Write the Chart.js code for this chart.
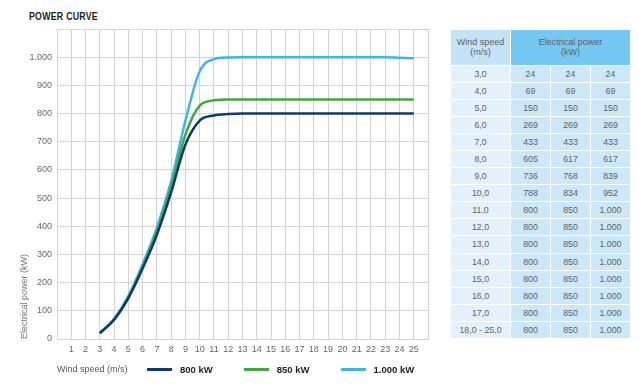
<!DOCTYPE html>
<html>
<head>
<meta charset="utf-8">
<script src="https://cdn.jsdelivr.net/npm/chart.js@4"></script>
<style>
    body { margin: 0; background: #fff; font-family: 'Liberation Sans', Arial, sans-serif; }
    #page { position: relative; width: 639px; height: 386px; overflow: hidden; }
    #title { position: absolute; left: 29px; top: 10px; font-size: 11px; font-weight: bold; color: #1e1e1e;
             letter-spacing: 0.3px; transform: scaleX(0.8); transform-origin: left top; }
    #chart-box { position: absolute; left: 0; top: 0; width: 440px; height: 386px; }
    #legend { position: absolute; left: 147px; top: 364px; display: flex; align-items: center; }
    .leg-item { display: flex; align-items: center; margin-right: 31px; font-size: 9.5px; font-weight: bold; color: #222; }
    .leg-line { width: 25px; height: 3px; margin-right: 8px; }
    #power-table { position: absolute; left: 450px; top: 29px; border-collapse: collapse; font-size: 8.8px; color: #606060; }
    #power-table td, #power-table th { border: 1px solid #fff; text-align: center; padding: 0; font-weight: normal; }
    #power-table th { height: 35px; line-height: 9.5px; font-size: 9px; }
    #power-table th.speed-head { background: #c4e2f6; width: 59px; }
    #power-table th.power-head { background: #74c7f0; }
    #power-table td { height: 16.06px; }
    #power-table td.speed { background: #e4f1fb; }
    #power-table td.val { background: #cce8f8; width: 39px; }
</style>
</head>
<body>
<div id="page">
    <div id="title">POWER CURVE</div>
    <div id="chart-box"><canvas id="power-chart" width="440" height="386"></canvas></div>
    <div id="legend"></div>
    <table id="power-table">
        <thead>
            <tr><th class="speed-head">Wind speed<br>(m/s)</th><th class="power-head" colspan="3">Electrical power<br>(kW)</th></tr>
        </thead>
        <tbody></tbody>
    </table>
</div>
<script>
// Curvas
const windSpeeds = [3, 4, 5, 6, 7, 8, 9, 10, 11, 12, 13, 14, 15, 16, 17, 18, 19, 20, 21, 22, 23, 24, 25];
const curve800 = [20, 68, 145, 250, 370, 520, 690, 775, 793, 798, 800, 800, 800, 800, 800, 800, 800, 800, 800, 800, 800, 800, 800];
const curve850 = [21, 70, 148, 258, 382, 540, 725, 828, 847, 850, 850, 850, 850, 850, 850, 850, 850, 850, 850, 850, 850, 850, 850];
const curve1000 = [22, 72, 152, 265, 395, 560, 775, 950, 993, 999, 1000, 1000, 1000, 1000, 1000, 1000, 1000, 1000, 1000, 1000, 1000, 998, 996];
const seriesLabels = ['800 kW', '850 kW', '1.000 kW'];
const seriesColors = ['#0c3a6e', '#3daa3a', '#3cb5e8'];

// Tabla
const tableSpeeds = ['3,0', '4,0', '5,0', '6,0', '7,0', '8,0', '9,0', '10,0', '11,0', '12,0', '13,0', '14,0', '15,0', '16,0', '17,0', '18,0 - 25,0'];
const table800 = [24, 69, 150, 269, 433, 605, 736, 788, 800, 800, 800, 800, 800, 800, 800, 800];
const table850 = [24, 69, 150, 269, 433, 617, 768, 834, 850, 850, 850, 850, 850, 850, 850, 850];
const table1000 = [24, 69, 150, 269, 433, 617, 839, 952, 1000, 1000, 1000, 1000, 1000, 1000, 1000, 1000];

function fmt(v) {
    return String(v).replace(/\B(?=(\d{3})+(?!\d))/g, '.');
}

const curves = [curve800, curve850, curve1000];
const datasets = curves.map((values, i) => ({
    label: seriesLabels[i],
    data: windSpeeds.map((x, j) => ({ x: x, y: values[j] })),
    borderColor: seriesColors[i],
    backgroundColor: seriesColors[i],
    borderWidth: 2.5,
    pointRadius: 0,
    cubicInterpolationMode: 'monotone',
    fill: false
}));

const gridColor = '#d2d2d2';
const tickFont = { family: "'Liberation Sans', Arial, sans-serif", size: 9 };

const chart = new Chart(document.getElementById('power-chart').getContext('2d'), {
    type: 'line',
    data: { datasets: datasets },
    options: {
        responsive: false,
        animation: false,
        layout: { padding: { left: 12, right: 12, top: 29, bottom: 11.4 } },
        plugins: { legend: { display: false }, tooltip: { enabled: false } },
        scales: {
            x: {
                type: 'linear',
                min: 0,
                max: 26,
                grid: { color: gridColor, drawTicks: false },
                border: { color: gridColor },
                ticks: {
                    stepSize: 1,
                    autoSkip: false,
                    maxRotation: 0,
                    padding: 5,
                    color: '#666',
                    font: tickFont,
                    callback: v => (v === 0 || v === 26) ? '' : v
                },
                title: {
                    display: true,
                    text: 'Wind speed (m/s)',
                    align: 'start',
                    color: '#555',
                    font: tickFont,
                    padding: { top: 4, bottom: 0 }
                }
            },
            y: {
                min: 0,
                max: 1100,
                grid: { color: gridColor, drawTicks: false },
                border: { color: gridColor },
                afterFit: scale => { scale.width = 45; },
                ticks: {
                    stepSize: 100,
                    padding: 5,
                    color: '#666',
                    font: tickFont,
                    callback: v => v === 1100 ? '' : fmt(v)
                },
                title: {
                    display: true,
                    text: 'Electrical power (kW)',
                    align: 'start',
                    color: '#777',
                    font: tickFont,
                    padding: { top: 7.6, bottom: 0 }
                }
            }
        }
    }
});

// Leyenda
const legendEl = document.getElementById('legend');
chart.data.datasets.forEach(ds => {
    const item = document.createElement('div');
    item.className = 'leg-item';
    item.innerHTML = `<span class="leg-line" style="background:${ds.borderColor}"></span>${ds.label}`;
    legendEl.appendChild(item);
});

// Tabla de potencia
const tbody = document.querySelector('#power-table tbody');
tableSpeeds.forEach((speed, i) => {
    const row = document.createElement('tr');
    row.innerHTML = `
        <td class="speed">${speed}</td>
        <td class="val">${fmt(table800[i])}</td>
        <td class="val">${fmt(table850[i])}</td>
        <td class="val">${fmt(table1000[i])}</td>
    `;
    tbody.appendChild(row);
});
</script>
</body>
</html>
